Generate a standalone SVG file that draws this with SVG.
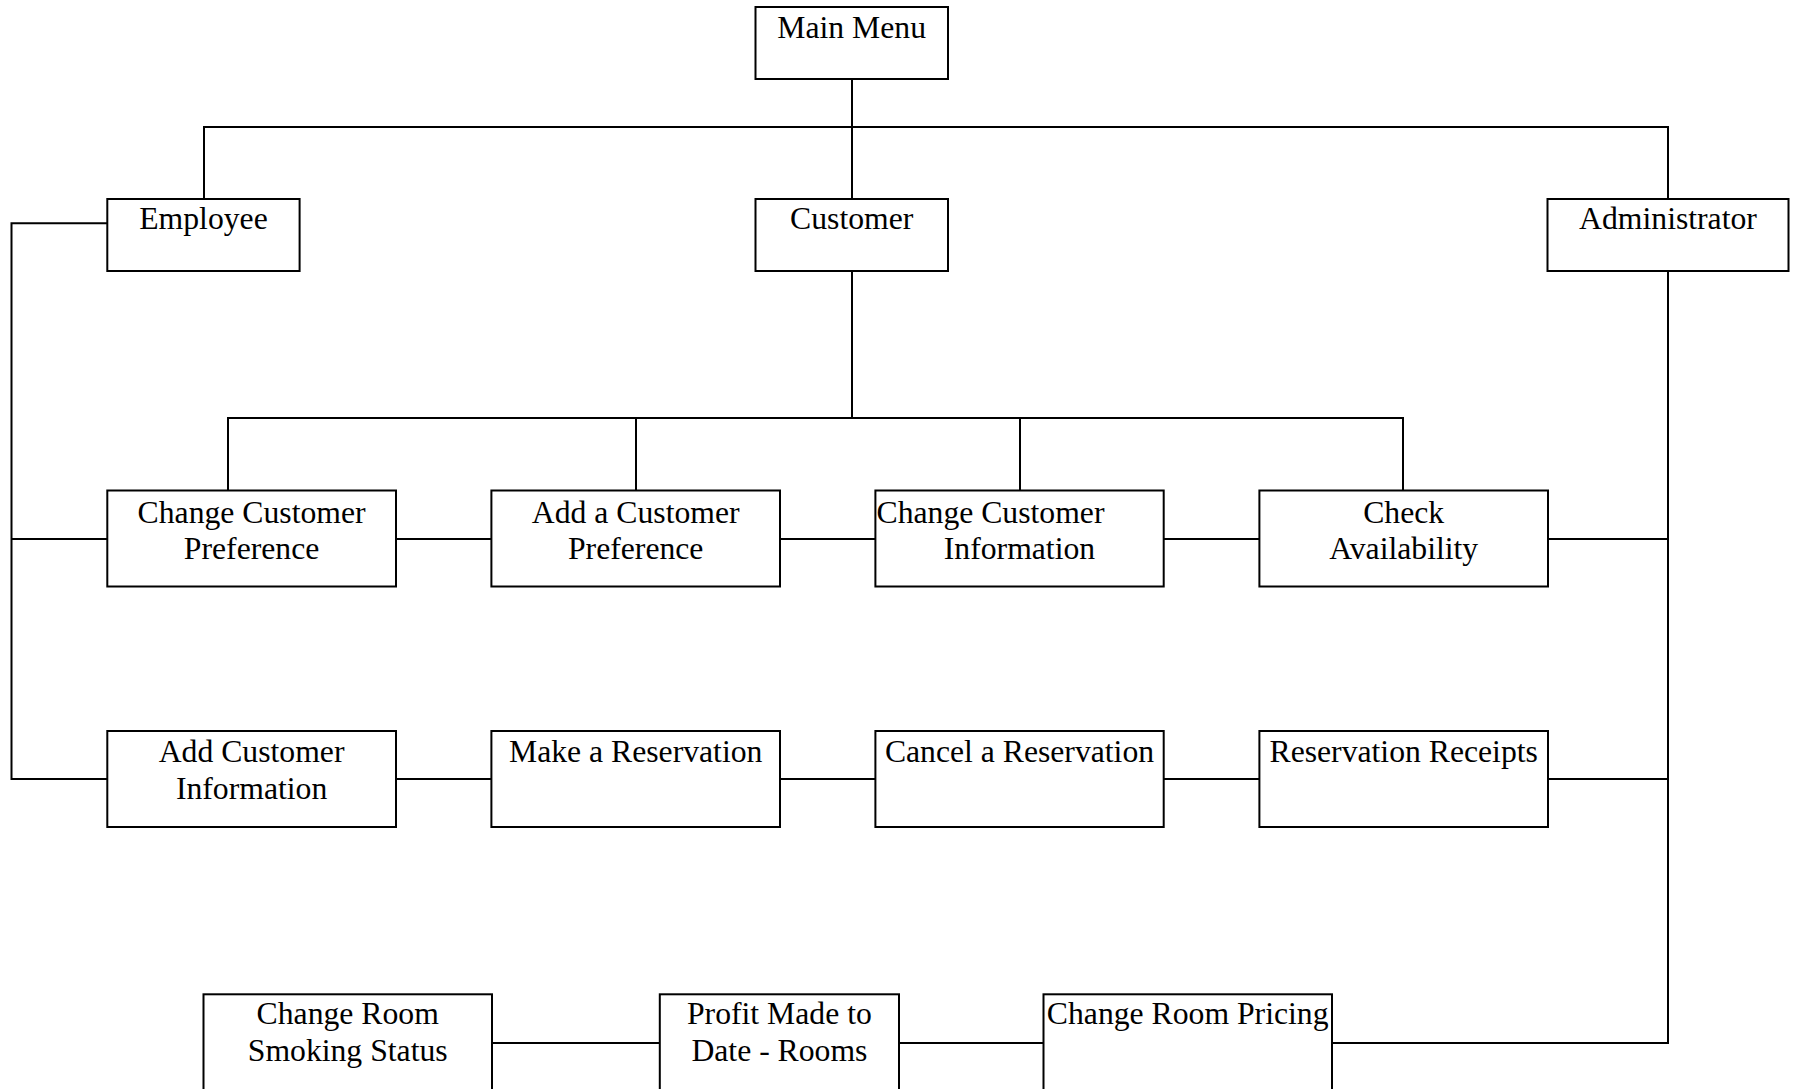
<svg xmlns="http://www.w3.org/2000/svg" width="1793" height="1089" viewBox="0 0 1793 1089">
<style>
.box{fill:#fff;stroke:#000;stroke-width:2}
.ln{fill:none;stroke:#000;stroke-width:2}
text{font-family:"Liberation Serif","Times New Roman",serif;font-size:31.7px;fill:#000;text-anchor:middle}
</style>
<rect width="1793" height="1089" fill="#fff"/>
<g id="connectors">
<path class="ln" d="M852,79V199M204,199V127H1668V199M852,271V418M228,490.5V418H1403V490.5M636,418V490.5M1020,418V490.5"/>
<path class="ln" d="M107.3,223.3H11.5V779H107.3M11.5,539H107.3"/>
<path class="ln" d="M396,539H491.4M780,539H875.4M1163.7,539H1259.4M1548,539H1668"/>
<path class="ln" d="M396,779H491.4M780,779H875.4M1163.7,779H1259.4M1548,779H1668"/>
<path class="ln" d="M1668,271V1043H1332M1043.5,1043H899M659.8,1043H492"/>
</g>
<g id="main-menu"><rect class="box" x="755.5" y="7" width="192.5" height="72"/><text x="851.7" y="37.7">Main Menu</text></g>
<g id="employee"><rect class="box" x="107.3" y="199" width="192.3" height="72"/><text x="203.5" y="229">Employee</text></g>
<g id="customer"><rect class="box" x="755.5" y="199" width="192.5" height="72"/><text x="851.7" y="229">Customer</text></g>
<g id="administrator"><rect class="box" x="1547.5" y="199" width="241" height="72"/><text x="1668" y="229">Administrator</text></g>
<g id="change-customer-preference"><rect class="box" x="107.3" y="490.5" width="288.7" height="96"/><text x="251.6" y="522.5">Change Customer</text><text x="251.6" y="558.7">Preference</text></g>
<g id="add-customer-preference"><rect class="box" x="491.4" y="490.5" width="288.6" height="96"/><text x="635.7" y="522.5">Add a Customer</text><text x="635.7" y="558.7">Preference</text></g>
<g id="change-customer-information"><rect class="box" x="875.4" y="490.5" width="288.3" height="96"/><text x="876.5" y="522.5" style="text-anchor:start">Change Customer</text><text x="1019.5" y="558.7">Information</text></g>
<g id="check-availability"><rect class="box" x="1259.4" y="490.5" width="288.6" height="96"/><text x="1403.7" y="522.5">Check</text><text x="1403.7" y="558.7">Availability</text></g>
<g id="add-customer-information"><rect class="box" x="107.3" y="731" width="288.7" height="96"/><text x="251.6" y="761.7">Add Customer</text><text x="251.6" y="799">Information</text></g>
<g id="make-reservation"><rect class="box" x="491.4" y="731" width="288.6" height="96"/><text x="635.7" y="761.7">Make a Reservation</text></g>
<g id="cancel-reservation"><rect class="box" x="875.4" y="731" width="288.3" height="96"/><text x="1019.5" y="761.7">Cancel a Reservation</text></g>
<g id="reservation-receipts"><rect class="box" x="1259.4" y="731" width="288.6" height="96"/><text x="1403.7" y="761.7">Reservation Receipts</text></g>
<g id="change-room-smoking-status"><rect class="box" x="203.5" y="994.3" width="288.5" height="110"/><text x="347.7" y="1024">Change Room</text><text x="347.7" y="1060.5">Smoking Status</text></g>
<g id="profit-made"><rect class="box" x="659.8" y="994.3" width="239.2" height="110"/><text x="779.4" y="1024">Profit Made to</text><text x="779.4" y="1060.5">Date - Rooms</text></g>
<g id="change-room-pricing"><rect class="box" x="1043.5" y="994.3" width="288.5" height="110"/><text x="1187.7" y="1024">Change Room Pricing</text></g>
</svg>
